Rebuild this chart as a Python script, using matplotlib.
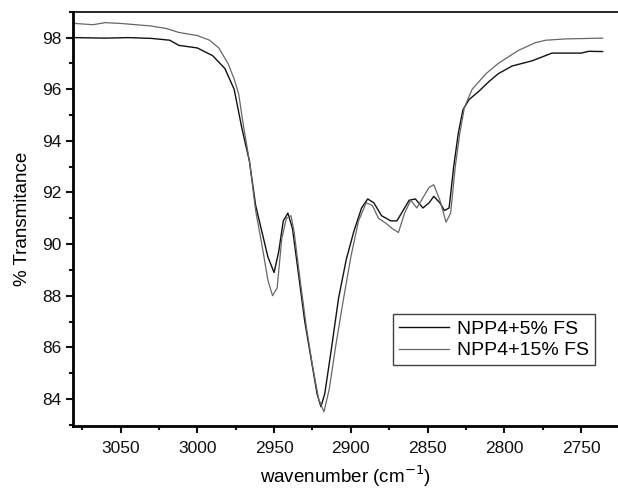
import matplotlib
matplotlib.use("Agg")
import matplotlib.pyplot as plt
from matplotlib.ticker import MultipleLocator

plt.rcParams["font.family"] = ["Liberation Sans", "DejaVu Sans"]

# NPP4 + 5% FS
wn_5 = [3080, 3060, 3045, 3030, 3018, 3012, 3000, 2990, 2982, 2976, 2971,
        2966, 2962, 2958, 2954, 2950, 2947, 2944, 2941, 2938, 2934, 2930,
        2926, 2922, 2919.5, 2917, 2913, 2908, 2903, 2898, 2893, 2889, 2885,
        2880, 2874, 2870, 2866, 2862, 2858, 2853, 2849, 2846, 2842, 2839,
        2836, 2833, 2830, 2827, 2823, 2817, 2810, 2804, 2795, 2782, 2769,
        2750, 2745, 2736]
tr_5 = [98.0, 97.98, 98.0, 97.97, 97.9, 97.7, 97.6, 97.3, 96.8, 96.0, 94.5,
        93.2, 91.5, 90.5, 89.5, 88.9, 89.7, 90.9, 91.2, 90.6, 88.8, 87.0,
        85.6, 84.2, 83.7, 84.2, 85.8, 87.9, 89.4, 90.5, 91.4, 91.75, 91.6,
        91.1, 90.9, 90.9, 91.3, 91.7, 91.75, 91.4, 91.6, 91.85, 91.6, 91.3,
        91.4, 93.0, 94.3, 95.2, 95.6, 95.9, 96.3, 96.6, 96.9, 97.1, 97.4,
        97.4, 97.47, 97.46]

# NPP4 + 15% FS
wn_15 = [3080, 3068, 3060, 3050, 3040, 3030, 3020, 3012, 3000, 2992, 2986,
         2980, 2976, 2973, 2970, 2966, 2962, 2958, 2954, 2951, 2948, 2945,
         2942, 2939, 2937, 2933, 2929, 2925, 2921, 2917.5, 2914, 2910, 2905,
         2900, 2895, 2890, 2886, 2882, 2877, 2873, 2869, 2865, 2861, 2857,
         2853, 2849, 2846, 2842, 2838, 2835, 2832, 2829, 2826, 2821, 2812,
         2804, 2791, 2780, 2773, 2760, 2736]
tr_15 = [98.55, 98.5, 98.58, 98.55, 98.5, 98.45, 98.35, 98.2, 98.08, 97.9, 97.6,
         97.0, 96.4, 95.8, 94.6, 93.2, 91.3, 90.0, 88.6, 88.0, 88.3, 90.2,
         91.0, 91.1, 90.5, 88.6, 86.8, 85.3, 84.0, 83.5, 84.4, 86.0, 87.8,
         89.5, 90.9, 91.6, 91.5, 91.0, 90.8, 90.6, 90.45, 91.2, 91.7, 91.4,
         91.8, 92.2, 92.3, 91.7, 90.85, 91.2, 93.0, 94.3, 95.3, 96.0, 96.6,
         97.0, 97.5, 97.8, 97.9, 97.95, 97.98]

fig = plt.figure(figsize=(6.18, 4.92), dpi=100)
ax = fig.add_axes([0.118, 0.134, 0.882, 0.842])

ax.plot(wn_5, tr_5, color="#111111", lw=1.0, label="NPP4+5% FS")
ax.plot(wn_15, tr_15, color="#666666", lw=0.9, label="NPP4+15% FS")

ax.set_xlim(3081, 2726)
ax.set_ylim(82.95, 99.0)
ax.xaxis.set_major_locator(MultipleLocator(50))
ax.xaxis.set_minor_locator(MultipleLocator(25))
ax.yaxis.set_major_locator(MultipleLocator(2))
ax.yaxis.set_minor_locator(MultipleLocator(1))
ax.tick_params(which="both", direction="out", width=1.5, labelsize=12.5, colors="#111111")
ax.tick_params(which="major", length=5)
ax.tick_params(which="minor", length=3)
ax.tick_params(axis="x", pad=6)

ax.spines["right"].set_visible(False)
ax.spines["left"].set_linewidth(2)
ax.spines["bottom"].set_linewidth(2)
ax.spines["top"].set_linewidth(1.2)

ax.set_xlabel("wavenumber (cm$^{-1}$)", fontsize=13.5, labelpad=5)
ax.set_ylabel("% Transmitance", fontsize=13.5, labelpad=8)

leg = ax.legend(loc="lower right", bbox_to_anchor=(0.958, 0.147), fontsize=14,
                frameon=True, fancybox=False, handlelength=2.6,
                handletextpad=0.4, borderpad=0.3, labelspacing=0.2,
                borderaxespad=0)
leg.get_frame().set_edgecolor("#111111")
leg.get_frame().set_linewidth(1.0)

fig.savefig("out.png", dpi=100)
